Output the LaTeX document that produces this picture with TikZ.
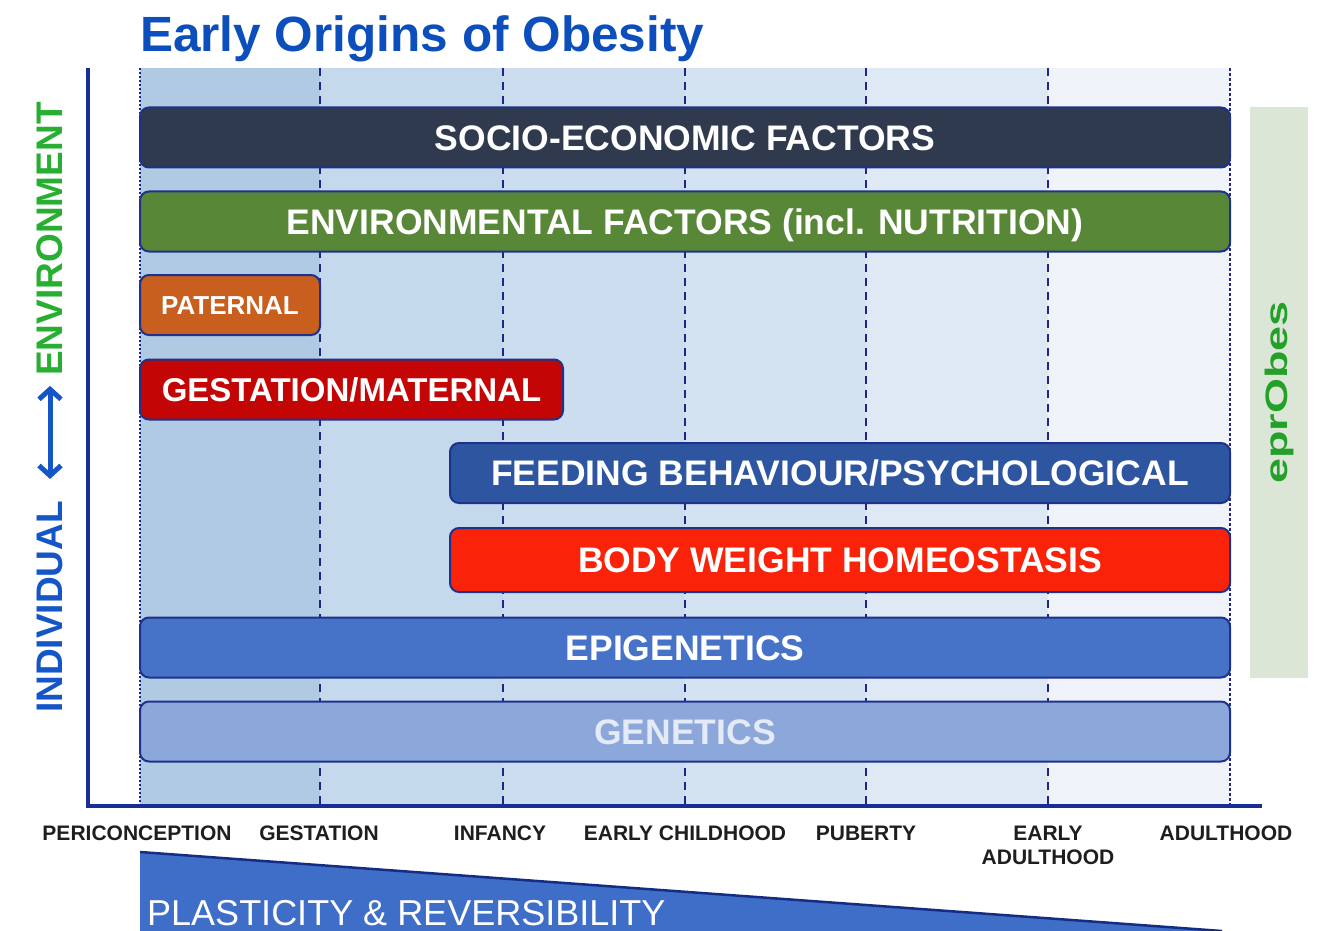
\documentclass[tikz,border=0pt]{standalone}
\usepackage{fontspec}
\setsansfont{Liberation Sans}
\usetikzlibrary{arrows,arrows.meta}

\definecolor{titleblue}{RGB}{12,78,188}
\definecolor{axisblue}{RGB}{25,45,150}
\definecolor{dashblue}{RGB}{35,35,140}
\definecolor{barline}{RGB}{30,50,140}
\definecolor{colA}{RGB}{176,202,228}
\definecolor{colB}{RGB}{197,217,237}
\definecolor{colC}{RGB}{203,221,239}
\definecolor{colD}{RGB}{212,227,242}
\definecolor{colE}{RGB}{222,233,245}
\definecolor{colF}{RGB}{240,244,250}
\definecolor{socio}{RGB}{48,58,78}
\definecolor{envgreen}{RGB}{88,135,55}
\definecolor{paternal}{RGB}{200,95,30}
\definecolor{maternal}{RGB}{195,5,5}
\definecolor{feeding}{RGB}{45,85,160}
\definecolor{homeo}{RGB}{250,35,10}
\definecolor{epigen}{RGB}{70,115,200}
\definecolor{genetics}{RGB}{140,168,218}
\definecolor{genetext}{RGB}{228,234,246}
\definecolor{eprobox}{RGB}{220,230,215}
\definecolor{eprogreen}{RGB}{35,160,40}
\definecolor{indblue}{RGB}{20,85,200}
\definecolor{envlabel}{RGB}{40,175,50}
\definecolor{stagegray}{RGB}{30,30,30}
\definecolor{plastic}{RGB}{62,110,200}
\definecolor{plasticedge}{RGB}{20,45,130}

\begin{document}
\begin{tikzpicture}[x=1pt,y=-1pt,>={Straight Barb[length=10pt,width=22pt]},
    bar/.style={rounded corners=9pt,draw=barline,line width=2pt,minimum height=60pt,
      inner sep=0pt,text=white,font=\sffamily\bfseries\fontsize{35.5}{40}\selectfont,
      text height=25.5pt,text depth=0pt},
    stage/.style={anchor=base,align=center,inner sep=0pt,text=stagegray,
      font=\sffamily\bfseries\fontsize{21}{24}\selectfont},
    divider/.style={draw=dashblue,line width=2.5pt,dash pattern=on 8pt off 6pt},
    side label/.style={rotate=90,inner sep=0pt,font=\sffamily\bfseries\fontsize{37}{40}\selectfont}]
  \useasboundingbox (0,0) rectangle (1334,931);

  % time columns
  \fill[colA] (140,68) rectangle (320,806);
  \fill[colB] (320,68) rectangle (503,806);
  \fill[colC] (503,68) rectangle (685,806);
  \fill[colD] (685,68) rectangle (866,806);
  \fill[colE] (866,68) rectangle (1048,806);
  \fill[colF] (1048,68) rectangle (1230,806);
  \draw[divider,dash pattern=on 2pt off 2pt] (140,68) -- (140,806);
  \draw[divider] (320,68) -- (320,806);
  \draw[divider] (503,68) -- (503,806);
  \draw[divider] (685,68) -- (685,806);
  \draw[divider] (866,68) -- (866,806);
  \draw[divider] (1048,68) -- (1048,806);
  \draw[divider,dash pattern=on 3pt off 2pt] (1230,68) -- (1230,806);
  \draw[axisblue,line width=4pt] (88,68) -- (88,806) -- (1262,806);

  \node[anchor=base west,inner sep=0pt,text=titleblue,
    font=\sffamily\bfseries\fontsize{49.5}{56}\selectfont] (title) at (140,52) {Early Origins of Obesity};

  % factors
  \node[bar,fill=socio,minimum width=1090pt] (1) at (685,137.5) {SOCIO-ECONOMIC FACTORS};
  \node[bar,fill=envgreen,minimum width=1090pt] (2) at (685,221.5) {ENVIRONMENTAL FACTORS (incl. NUTRITION)};
  \node[bar,fill=paternal,minimum width=180pt,text height=19pt,
    font=\sffamily\bfseries\fontsize{26}{30}\selectfont] (3) at (230,305) {PATERNAL};
  \node[bar,fill=maternal,minimum width=423pt,
    font=\sffamily\bfseries\fontsize{33}{38}\selectfont,text height=23.5pt] (4) at (351.5,389.5) {GESTATION/MATERNAL};
  \node[bar,fill=feeding,minimum width=780pt] (5) at (840,473) {FEEDING BEHAVIOUR/PSYCHOLOGICAL};
  \node[bar,fill=homeo,minimum width=780pt,minimum height=64pt] (6) at (840,560) {BODY WEIGHT HOMEOSTASIS};
  \node[bar,fill=epigen,minimum width=1090pt] (7) at (685,647.5) {EPIGENETICS};
  \node[bar,fill=genetics,minimum width=1090pt,text=genetext] (8) at (685,731.5) {GENETICS};

  \node[rotate=90,fill=eprobox,minimum width=571pt,minimum height=58pt,inner sep=0pt,
    text=eprogreen,font=\sffamily\bfseries\fontsize{31}{34}\selectfont] (9) at (1279,392.5)
    {\scalebox{1.45}[1]{eprObes}};

  % individual <-> environment
  \node[side label,text=indblue] (ind) at (50,607) {INDIVIDUAL};
  \node[side label,text=envlabel] (env) at (50,239) {ENVIRONMENT};
  \draw[<->,indblue,line width=5pt,shorten <=22pt,shorten >=10pt] (ind) -- (env);

  % stages
  \node[stage] (t1) at (137,840) {PERICONCEPTION};
  \node[stage] (t2) at (319,840) {GESTATION};
  \node[stage] (t3) at (500,840) {INFANCY};
  \node[stage] (t4) at (685,840) {EARLY CHILDHOOD};
  \node[stage] (t5) at (866,840) {PUBERTY};
  \node[stage] (t6) at (1048,864) {EARLY\\ADULTHOOD};
  \node[stage] (t7) at (1226,840) {ADULTHOOD};

  % plasticity wedge
  \fill[plastic] (140,852) -- (1222,931) -- (140,931) -- cycle;
  \draw[plasticedge,line width=2.5pt] (140,852) -- (1222,931);
  \node[anchor=base west,inner sep=0pt,text=white,
    font=\sffamily\fontsize{36}{40}\selectfont] (10) at (147,925) {PLASTICITY \& REVERSIBILITY};
\end{tikzpicture}
\end{document}
